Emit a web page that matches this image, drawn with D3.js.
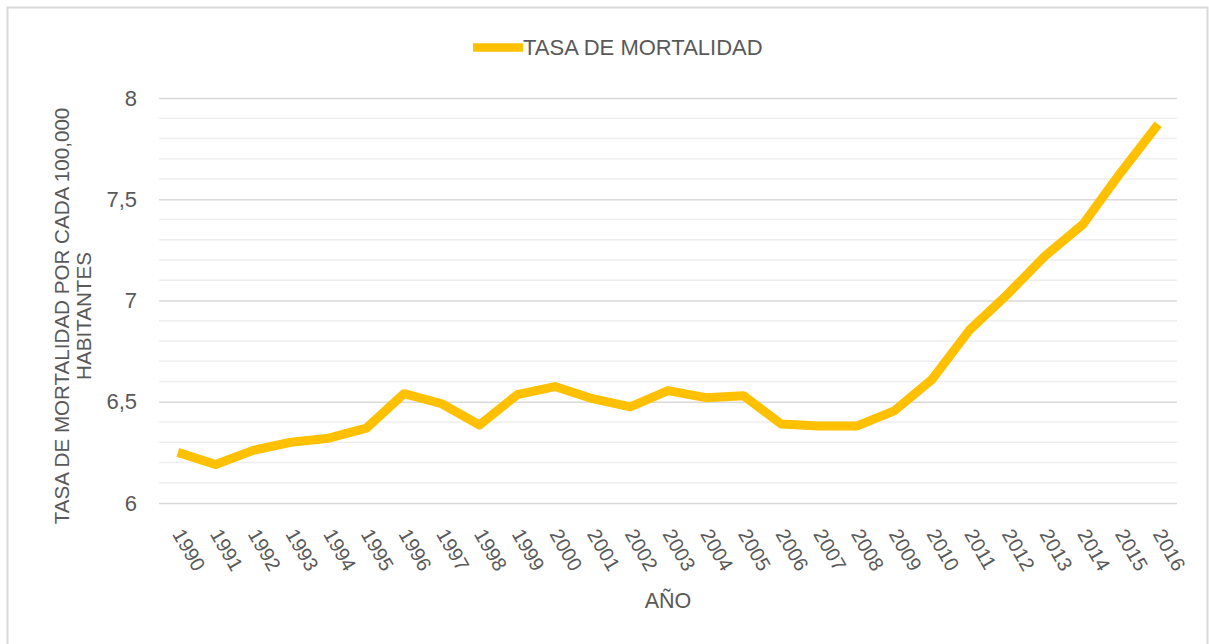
<!DOCTYPE html>
<html>
<head>
<meta charset="utf-8">
<script src="https://cdn.jsdelivr.net/npm/d3@7"></script>
<style>
  html, body { margin: 0; padding: 0; background: #fff; }
  svg { display: block; font-family: "Liberation Sans", Arial, sans-serif; }
</style>
</head>
<body>
<svg id="chart" width="1209" height="644"></svg>
<script>
const years = ["1990","1991","1992","1993","1994","1995","1996","1997","1998","1999","2000","2001","2002","2003","2004","2005","2006","2007","2008","2009","2010","2011","2012","2013","2014","2015","2016"];
const rates = [6.25,6.19,6.26,6.30,6.32,6.37,6.54,6.49,6.385,6.535,6.575,6.515,6.475,6.555,6.52,6.53,6.39,6.38,6.38,6.455,6.61,6.855,7.03,7.22,7.375,7.63,7.87];
const yMajorTicks = [6, 6.5, 7, 7.5, 8];
const seriesName = "TASA DE MORTALIDAD";
const yTitleLines = ["TASA DE MORTALIDAD POR CADA 100,000", "HABITANTES"];
const xTitle = "AÑO";

const svg = d3.select("#chart");
const plot = { left: 159, right: 1177, top: 98, bottom: 503 };
const textColor = "#595959";
const lineColor = "#FFC000";

// outer border
svg.append("rect")
  .attr("x", 7.5).attr("y", 7.5)
  .attr("width", 1200).attr("height", 660)
  .attr("fill", "none").attr("stroke", "#d9d9d9").attr("stroke-width", 2);

const x = d3.scaleBand().domain(years).range([plot.left, plot.right]);
const cx = d => x(d) + x.bandwidth() / 2;
const y = d3.scaleLinear().domain([6, 8]).range([plot.bottom, plot.top]);

// minor gridlines
const minorTicks = d3.range(6, 8.0001, 0.1).map(v => Math.round(v * 10) / 10)
  .filter(v => !yMajorTicks.some(m => Math.abs(m - v) < 1e-6));
svg.append("g").selectAll("line").data(minorTicks).join("line")
  .attr("x1", plot.left).attr("x2", plot.right)
  .attr("y1", d => y(d)).attr("y2", d => y(d))
  .attr("stroke", "#eeeeee").attr("stroke-width", 1.5);

// major gridlines via axis
const yAxis = d3.axisLeft(y).tickValues(yMajorTicks)
  .tickFormat(d => String(d).replace(".", ","))
  .tickSize(-(plot.right - plot.left)).tickPadding(22);
const gy = svg.append("g").attr("transform", `translate(${plot.left},0)`).call(yAxis);
gy.select(".domain").remove();
gy.selectAll(".tick line").attr("stroke", "#d9d9d9").attr("stroke-width", 1.5);
gy.selectAll(".tick text").attr("fill", textColor).attr("font-size", 22)
  .attr("font-family", "Liberation Sans, Arial, sans-serif");

// x axis labels
const xAxis = d3.axisBottom(x).tickSize(0).tickPadding(0);
const gx = svg.append("g").attr("transform", `translate(0,${plot.bottom})`).call(xAxis);
gx.select(".domain").remove();
gx.selectAll(".tick text")
  .attr("fill", textColor).attr("font-size", 20)
  .attr("font-family", "Liberation Sans, Arial, sans-serif")
  .attr("text-anchor", "start")
  .attr("dy", 0).attr("y", 0)
  .attr("transform", "translate(-6,31) rotate(60)");

// line
const line = d3.line().x((d, i) => cx(years[i])).y(d => y(d));
svg.append("path").datum(rates)
  .attr("d", line)
  .attr("fill", "none").attr("stroke", lineColor)
  .attr("stroke-width", 9).attr("stroke-linejoin", "round").attr("stroke-linecap", "butt");

// legend
svg.append("line").attr("x1", 473).attr("x2", 523).attr("y1", 47.5).attr("y2", 47.5)
  .attr("stroke", lineColor).attr("stroke-width", 8.5);
svg.append("text").attr("x", 523).attr("y", 55).attr("fill", textColor)
  .attr("font-size", 22).text(seriesName);

// y title
const yt = svg.append("text").attr("transform", "translate(0,316) rotate(-90)")
  .attr("text-anchor", "middle").attr("fill", textColor).attr("font-size", 20.6);
yt.append("tspan").attr("x", 0).attr("y", 69).text(yTitleLines[0]);
yt.append("tspan").attr("x", 0).attr("y", 91).text(yTitleLines[1]);

// x title
svg.append("text").attr("x", (plot.left + plot.right) / 2).attr("y", 608)
  .attr("text-anchor", "middle").attr("fill", textColor).attr("font-size", 21.5).text(xTitle);
</script>
</body>
</html>
